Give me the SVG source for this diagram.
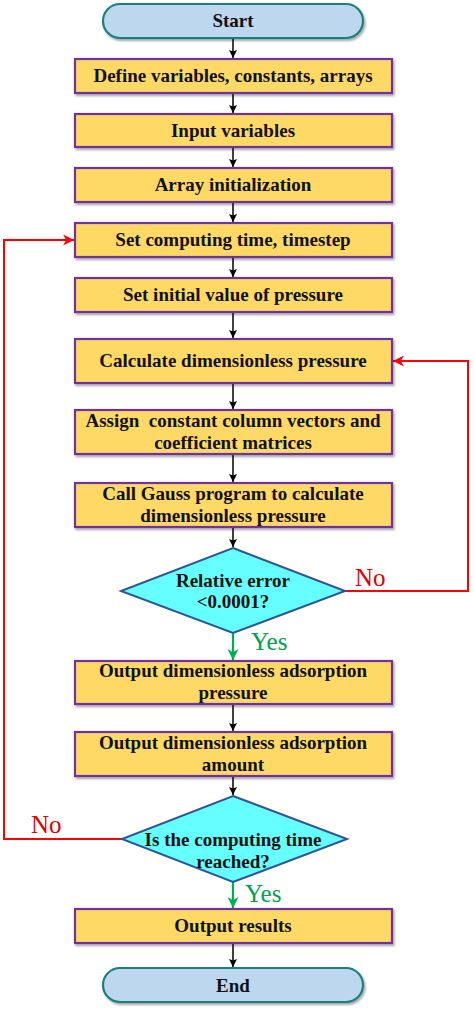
<svg xmlns="http://www.w3.org/2000/svg" width="474" height="1011" viewBox="0 0 474 1011">
<defs>
<filter id="sh" x="-10%" y="-20%" width="120%" height="150%"><feDropShadow dx="1.5" dy="2" stdDeviation="1.2" flood-color="#000" flood-opacity="0.35"/></filter>
<marker id="ab" viewBox="0 0 10 10" refX="10" refY="5" markerWidth="8" markerHeight="8" orient="auto" markerUnits="userSpaceOnUse"><path d="M0,0 L10,5 L0,10 L2,5 z" fill="#000"/></marker>
<marker id="ar" viewBox="0 0 10 10" refX="10" refY="5" markerWidth="11" markerHeight="11" orient="auto" markerUnits="userSpaceOnUse"><path d="M0,0 L10,5 L0,10 L3,5 z" fill="#FF0000"/></marker>
<marker id="ag" viewBox="0 0 10 10" refX="10" refY="5" markerWidth="11" markerHeight="11" orient="auto" markerUnits="userSpaceOnUse"><path d="M0,0 L10,5 L0,10 L3,5 z" fill="#00B050"/></marker>
</defs>
<style>
.box{fill:#FFD966;stroke:#7030A0;stroke-width:2.2;filter:url(#sh)}
.term{fill:#BDD7EE;stroke:#1F7F7F;stroke-width:2.2;filter:url(#sh)}
.dia{fill:#66FFFF;stroke:#2F5597;stroke-width:2}
.t{font-family:"Liberation Serif","Times New Roman",serif;font-weight:bold;font-size:19px;fill:#111;text-anchor:middle}
.blk{stroke:#000;stroke-width:1.5;fill:none;marker-end:url(#ab)}
.red{stroke:#FF0000;stroke-width:2;fill:none;marker-end:url(#ar)}
.grn{stroke:#00B050;stroke-width:2.2;fill:none;marker-end:url(#ag)}
.lr{font-family:"Liberation Serif","Times New Roman",serif;font-size:25px;fill:#E00000}
.lg{font-family:"Liberation Serif","Times New Roman",serif;font-size:25px;fill:#00A050}
</style>
<g id="connectors">
<line class="blk" x1="233" y1="38" x2="233" y2="58"/>
<line class="blk" x1="233" y1="93" x2="233" y2="113"/>
<line class="blk" x1="233" y1="147" x2="233" y2="167"/>
<line class="blk" x1="233" y1="202" x2="233" y2="222"/>
<line class="blk" x1="233" y1="257" x2="233" y2="277"/>
<line class="blk" x1="233" y1="312" x2="233" y2="338"/>
<line class="blk" x1="233" y1="383" x2="233" y2="409"/>
<line class="blk" x1="233" y1="454" x2="233" y2="482"/>
<line class="blk" x1="233" y1="527" x2="233" y2="547"/>
<line class="grn" x1="233" y1="633" x2="233" y2="660"/>
<line class="blk" x1="233" y1="704" x2="233" y2="731"/>
<line class="blk" x1="233" y1="776" x2="233" y2="795"/>
<line class="grn" x1="233" y1="882" x2="233" y2="908"/>
<line class="blk" x1="233" y1="943" x2="233" y2="967"/>
<polyline class="red" points="345,591 468,591 468,361 393,361"/>
<polyline class="red" points="122,839 4,839 4,240 74,240"/>
<text class="lr" x="355" y="586">No</text>
<text class="lg" x="251" y="650">Yes</text>
<text class="lr" x="31" y="833">No</text>
<text class="lg" x="245" y="902">Yes</text>
</g>
<g id="start"><rect class="term" x="103" y="4" width="260" height="34" rx="17"/><text class="t" x="233" y="27">Start</text></g>
<g id="define"><rect class="box" x="75" y="59" width="317" height="34"/><text class="t" x="233" y="82">Define variables, constants, arrays</text></g>
<g id="input"><rect class="box" x="75" y="114" width="317" height="33"/><text class="t" x="233" y="137">Input variables</text></g>
<g id="array"><rect class="box" x="75" y="168" width="317" height="34"/><text class="t" x="233" y="191">Array initialization</text></g>
<g id="settime"><rect class="box" x="75" y="223" width="317" height="34"/><text class="t" x="233" y="246">Set computing time, timestep</text></g>
<g id="setinit"><rect class="box" x="75" y="278" width="317" height="34"/><text class="t" x="233" y="301">Set initial value of pressure</text></g>
<g id="calc"><rect class="box" x="75" y="339" width="317" height="44"/><text class="t" x="233" y="367">Calculate dimensionless pressure</text></g>
<g id="assign"><rect class="box" x="75" y="410" width="317" height="44"/><text class="t" x="233" y="427" xml:space="preserve">Assign  constant column vectors and</text><text class="t" x="233" y="449">coefficient matrices</text></g>
<g id="gauss"><rect class="box" x="75" y="483" width="317" height="44"/><text class="t" x="233" y="500">Call Gauss program to calculate</text><text class="t" x="233" y="522">dimensionless pressure</text></g>
<g id="err"><polygon class="dia" points="233,548 345,591 233,633 121,591"/><text class="t" x="233" y="587">Relative error</text><text class="t" x="233" y="608">&lt;0.0001?</text></g>
<g id="out1"><rect class="box" x="75" y="661" width="317" height="43"/><text class="t" x="233" y="677">Output dimensionless adsorption</text><text class="t" x="233" y="699">pressure</text></g>
<g id="out2"><rect class="box" x="75" y="732" width="317" height="44"/><text class="t" x="233" y="749">Output dimensionless adsorption</text><text class="t" x="233" y="771">amount</text></g>
<g id="timeq"><polygon class="dia" points="233,796 347,839 233,882 122,839"/><text class="t" x="233" y="846">Is the computing time</text><text class="t" x="233" y="868">reached?</text></g>
<g id="results"><rect class="box" x="75" y="909" width="317" height="34"/><text class="t" x="233" y="932">Output results</text></g>
<g id="end"><rect class="term" x="103" y="968" width="260" height="34" rx="17"/><text class="t" x="233" y="992">End</text></g>
</svg>
